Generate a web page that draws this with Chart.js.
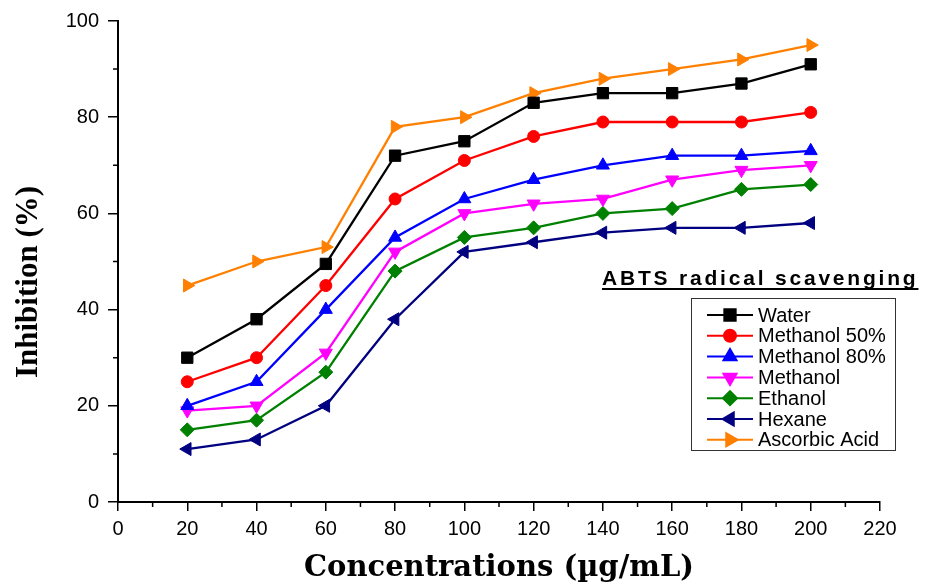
<!DOCTYPE html>
<html>
<head>
<meta charset="utf-8">
<title>ABTS radical scavenging</title>
<script src="https://cdn.jsdelivr.net/npm/chart.js@4.4.1/dist/chart.umd.min.js"></script>
<style>
    html, body { margin: 0; padding: 0; background: #fff; }
    #wrap { width: 925px; height: 587px; }
</style>
</head>
<body>
<div id="wrap"><canvas id="chart" width="925" height="587"></canvas></div>
<script>
// concentrations (ug/mL)
var concentrations = [20, 40, 60, 80, 100, 120, 140, 160, 180, 200];

// inhibition (%) per extract
var water       = [30, 38, 49.5, 72, 75, 83, 85, 85, 87, 91];
var methanol50  = [25, 30, 45, 63, 71, 76, 79, 79, 79, 81];
var methanol80  = [20, 25, 40, 55, 63, 67, 70, 72, 72, 73];
var methanol    = [19, 20, 31, 52, 60, 62, 63, 67, 69, 70];
var ethanol     = [15, 17, 27, 48, 55, 57, 60, 61, 65, 66];
var hexane      = [11, 13, 20, 38, 52, 54, 56, 57, 57, 58];
var ascorbic    = [45, 50, 53, 78, 80, 85, 88, 90, 92, 95];

var series_names = ["Water", "Methanol 50%", "Methanol 80%", "Methanol", "Ethanol", "Hexane", "Ascorbic Acid"];
var series_values = [water, methanol50, methanol80, methanol, ethanol, hexane, ascorbic];

var x_ticks = [0, 20, 40, 60, 80, 100, 120, 140, 160, 180, 200, 220];
var y_ticks = [0, 20, 40, 60, 80, 100];

var chart_title = "ABTS radical scavenging";
var x_title = "Concentrations (\u00b5g/mL)";
var y_title = "Inhibition (%)";

var line_colors = ["#000000", "#ff0000", "#0000ff", "#ff00ff", "#008000", "#000080", "#ff8000"];
var point_styles = ["rect", "circle", "triangle", "triangle", "rectRot", "triangle", "triangle"];
var point_rotations = [0, 0, 0, 180, 0, 270, 90];
var point_radius = [8, 6, 7.5, 7.5, 7, 7.5, 7.5];

var datasets = [];
for (var i = 0; i < series_names.length; i++) {
    var pts = [];
    for (var j = 0; j < concentrations.length; j++) {
        pts.push({ x: concentrations[j], y: series_values[i][j] });
    }
    datasets.push({
        label: series_names[i],
        data: pts,
        borderColor: line_colors[i],
        backgroundColor: line_colors[i],
        borderWidth: 2.3,
        pointStyle: point_styles[i],
        rotation: point_rotations[i],
        pointRadius: point_radius[i],
        pointBorderWidth: 1,
        tension: 0,
        fill: false
    });
}

// short ticks between the labelled ones
var minorTicks = {
    id: "minorTicks",
    afterDraw: function(chart) {
        var ctx = chart.ctx;
        var xs = chart.scales.x, ys = chart.scales.y;
        ctx.save();
        ctx.strokeStyle = "#000";
        ctx.lineWidth = 1.5;
        ctx.beginPath();
        for (var v = 10; v < 220; v += 20) {
            var px = xs.getPixelForValue(v);
            ctx.moveTo(px, xs.top);
            ctx.lineTo(px, xs.top + 5);
        }
        for (var w = 10; w < 100; w += 20) {
            var py = ys.getPixelForValue(w);
            ctx.moveTo(ys.right, py);
            ctx.lineTo(ys.right - 5, py);
        }
        ctx.stroke();

        // y axis title, sits a bit below the middle of the axis
        ctx.fillStyle = "#000";
        ctx.font = "bold 31px 'Liberation Serif', 'Times New Roman', serif";
        ctx.textAlign = "center";
        ctx.textBaseline = "middle";
        ctx.translate(29, 282);
        ctx.rotate(-Math.PI / 2);
        ctx.fillText(y_title, 0, 0);
        ctx.restore();
    }
};

function drawMarker(ctx, ds, x, y) {
    if (Chart.helpers && Chart.helpers.drawPoint) {
        Chart.helpers.drawPoint(ctx, {
            pointStyle: ds.pointStyle,
            rotation: ds.rotation,
            radius: ds.pointRadius,
            borderWidth: 1
        }, x, y);
    } else {
        ctx.beginPath();
        ctx.arc(x, y, ds.pointRadius, 0, Math.PI * 2);
        ctx.fill();
    }
}

// boxed legend and underlined heading inside the plot
var boxLegend = {
    id: "boxLegend",
    afterDraw: function(chart) {
        var ctx = chart.ctx;
        ctx.save();

        ctx.fillStyle = "#000";
        ctx.font = "bold 21px 'Liberation Sans', Arial, sans-serif";
        ctx.textBaseline = "alphabetic";
        ctx.textAlign = "left";
        if ("letterSpacing" in ctx) ctx.letterSpacing = "2.8px";
        ctx.fillText(chart_title, 602, 285);
        var tw = ctx.measureText(chart_title).width;
        if ("letterSpacing" in ctx) ctx.letterSpacing = "0px";
        ctx.fillRect(602, 288, tw, 2);

        ctx.strokeStyle = "#333";
        ctx.lineWidth = 1;
        ctx.strokeRect(691.5, 298.5, 204, 152);

        ctx.font = "20px 'Liberation Sans', Arial, sans-serif";
        ctx.textBaseline = "middle";
        var ds_list = chart.data.datasets;
        for (var i = 0; i < ds_list.length; i++) {
            var ds = ds_list[i];
            var y = 315 + i * 20.8;
            ctx.strokeStyle = ds.borderColor;
            ctx.fillStyle = ds.backgroundColor;
            ctx.lineWidth = 2;
            ctx.beginPath();
            ctx.moveTo(707, y);
            ctx.lineTo(753, y);
            ctx.stroke();
            drawMarker(ctx, ds, 730, y);
            ctx.fillStyle = "#000";
            ctx.fillText(ds.label, 758, y + 1);
        }
        ctx.restore();
    }
};

var ctx = document.getElementById("chart");

var line_chart = new Chart(ctx, {
    type: "line",
    data: { datasets: datasets },
    plugins: [minorTicks, boxLegend],
    options: {
        responsive: false,
        animation: false,
        layout: { padding: { top: 19, right: 45, left: 0, bottom: 0 } },
        plugins: {
            legend: { display: false },
            tooltip: { enabled: false }
        },
        scales: {
            x: {
                type: "linear",
                min: 0,
                max: 220,
                afterBuildTicks: function(scale) {
                    scale.ticks = x_ticks.map(function(v) { return { value: v }; });
                },
                afterFit: function(scale) { scale.height = 85; },
                grid: { drawOnChartArea: false, drawTicks: true, tickLength: 9, color: "#000", lineWidth: 1.5 },
                border: { color: "#000", width: 2 },
                ticks: {
                    color: "#000",
                    padding: 6,
                    maxRotation: 0,
                    autoSkip: false,
                    font: { family: "'Liberation Sans', Arial, sans-serif", size: 20 }
                },
                title: {
                    display: true,
                    text: x_title,
                    color: "#000",
                    padding: { top: 0, bottom: 1 },
                    font: { family: "'DejaVu Serif', serif", size: 29, weight: "bold" }
                }
            },
            y: {
                min: 0,
                max: 100,
                afterBuildTicks: function(scale) {
                    scale.ticks = y_ticks.map(function(v) { return { value: v }; });
                },
                afterFit: function(scale) { scale.width = 118; },
                grid: { drawOnChartArea: false, drawTicks: true, tickLength: 10, color: "#000", lineWidth: 1.5 },
                border: { color: "#000", width: 2 },
                ticks: {
                    color: "#000",
                    padding: 9,
                    font: { family: "'Liberation Sans', Arial, sans-serif", size: 20 }
                },
                title: { display: false }
            }
        }
    }
});
</script>
</body>
</html>
